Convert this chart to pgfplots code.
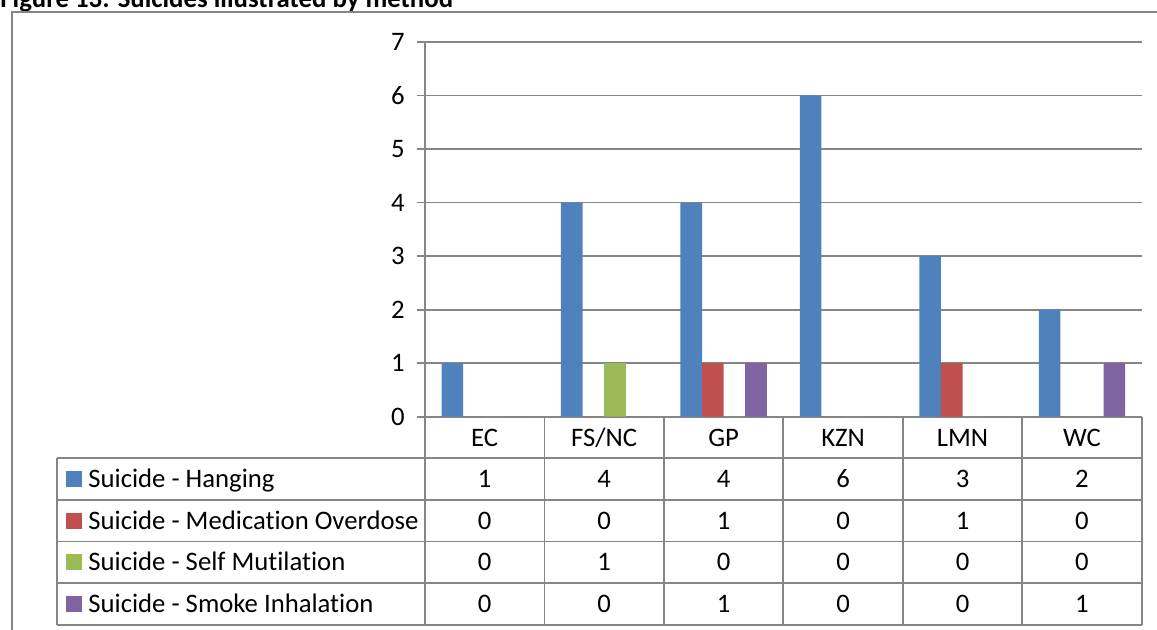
\documentclass[border=0pt]{standalone}
\usepackage{fontspec}
\setmainfont{Carlito}[Ligatures=NoCommon]
\usepackage{pgfplots}
\usepackage{pgfplotstable}
\pgfplotsset{compat=1.18}

\definecolor{hang}{HTML}{4F81BD}
\definecolor{med}{HTML}{C0504D}
\definecolor{selfm}{HTML}{9BBB59}
\definecolor{smoke}{HTML}{8064A2}
\definecolor{rule}{HTML}{868686}

% suicides per province, by method
\pgfplotstableread{
cat   hang med self smoke
EC    1    0   0    0
FS/NC 4    0   1    0
GP    4    1   0    1
KZN   6    0   0    0
LMN   3    1   0    0
WC    2    0   0    1
}\suicides

\newcommand\colw{59.725pt}
\newcommand\rowh{20.8pt}

\begin{document}
\begin{tikzpicture}[font=\fontsize{13.35}{16}\selectfont]
\useasboundingbox (0,0) rectangle (578.5pt,314.5pt);
\clip (0,0) rectangle (578.5pt,314.5pt);

% caption and frame
\node[anchor=base west, inner sep=0pt, font=\fontsize{13.4}{16}\selectfont\bfseries]
  at (0pt,311pt) {Figure 13: Suicides illustrated by method};
\draw[rule, line width=0.75pt] (6pt,-5pt) -- (6pt,308.5pt) -- (600pt,308.5pt);

\begin{axis}[
  at={(212.5pt,106.15pt)}, anchor=south west, scale only axis,
  width=358.35pt, height=187.35pt,
  xmin=-0.5, xmax=5.5, ymin=0, ymax=7,
  axis lines*=left,
  axis line style={rule, line width=0.9pt},
  xtick=\empty, ytick={0,...,7},
  ymajorgrids, grid style={rule, line width=0.9pt},
  tick align=outside, major tick length=4.2pt,
  tick style={rule, line width=0.9pt},
  yticklabel style={anchor=east, inner sep=0pt, xshift=-5.8pt},
  /pgf/number format/assume math mode=true,
  ybar=0pt, bar width=10.8pt,
  clip=false,
]
\addplot[draw=none, fill=hang]  table[x expr=\coordindex, y=hang]  {\suicides};
\addplot[draw=none, fill=med]   table[x expr=\coordindex, y=med]   {\suicides};
\addplot[draw=none, fill=selfm] table[x expr=\coordindex, y=self]  {\suicides};
\addplot[draw=none, fill=smoke] table[x expr=\coordindex, y=smoke] {\suicides};
\end{axis}

% data table below the plot
\begin{scope}[rule, line width=0.9pt]
\foreach \k in {0,...,6}
  \draw ({212.5pt+\k*\colw},106.15pt) -- ({212.5pt+\k*\colw},{106.15pt-5*\rowh});
\draw (28.5pt,{106.15pt-\rowh}) -- (28.5pt,{106.15pt-5*\rowh});
\foreach \j in {1,...,5}
  \draw (28.5pt,{106.15pt-\j*\rowh}) -- (570.85pt,{106.15pt-\j*\rowh});
\end{scope}

\foreach \c in {0,...,5}{
  \pgfplotstablegetelem{\c}{cat}\of\suicides
  \node[anchor=base, inner sep=0pt] at ({212.5pt+(\c+0.5)*\colw},{106.15pt-0.5*\rowh-4.3pt}) {\pgfplotsretval};
  \foreach \s [count=\j] in {hang,med,self,smoke}{
    \pgfplotstablegetelem{\c}{\s}\of\suicides
    \node[anchor=base, inner sep=0pt] at ({212.5pt+(\c+0.5)*\colw},{106.15pt-(\j+0.5)*\rowh-4.3pt}) {\pgfplotsretval};
  }
}

\foreach \col/\name [count=\j] in {hang/Suicide - Hanging,med/Suicide - Medication Overdose,selfm/Suicide - Self Mutilation,smoke/Suicide - Smoke Inhalation}{
  \fill[\col] (33pt,{106.15pt-(\j+0.5)*\rowh-3.9pt}) rectangle ++(7.85pt,7.85pt);
  \node[anchor=base west, inner sep=0pt] at (44pt,{106.15pt-(\j+0.5)*\rowh-4.3pt}) {\name};
}
\end{tikzpicture}
\end{document}
